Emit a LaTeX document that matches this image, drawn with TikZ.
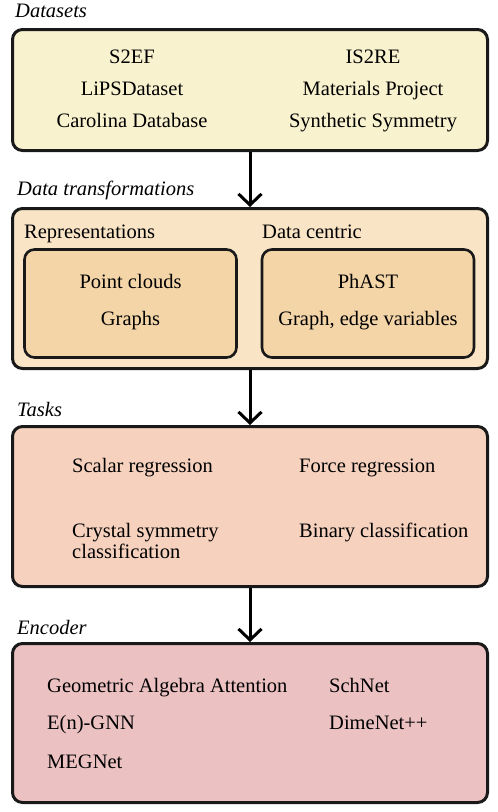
\documentclass[tikz,border=0pt]{standalone}
\usepackage{fontspec}
\setmainfont{Liberation Serif}
\usetikzlibrary{arrows.meta}
\definecolor{cDat}{HTML}{F8F2CF}
\definecolor{cTra}{HTML}{F9E4C6}
\definecolor{cIn}{HTML}{F3D5A8}
\definecolor{cTas}{HTML}{F5D1BE}
\definecolor{cEnc}{HTML}{ECC1C2}
\tikzset{
  bigbox/.style={draw=black!90, line width=3pt, rounded corners=10pt, inner sep=0pt, minimum width=475pt},
  innerbox/.style={draw=black!90, line width=2.6pt, rounded corners=10pt, inner sep=0pt, minimum width=212pt, minimum height=108pt, fill=cIn},
  txt/.style={inner sep=0pt, font=\fontsize{20.5}{21}\selectfont},
  lbl/.style={inner sep=0pt, anchor=base west, font=\fontsize{20.5}{21}\selectfont\itshape},
  flow/.style={line width=3pt, -{Straight Barb[length=11pt,width=23pt,line join=miter]}},
}
\begin{document}
\begin{tikzpicture}[x=1pt,y=-1pt]
\useasboundingbox (0,0) rectangle (498,812);
% boxes
\node[bigbox, fill=cDat, minimum height=121pt] (b1) at (250,90) {};
\node[bigbox, fill=cTra, minimum height=160pt] (b2) at (250,288.5) {};
\node[innerbox] (i1) at (130.5,303.5) {};
\node[innerbox] (i2) at (368,303.5) {};
\node[bigbox, fill=cTas, minimum height=160pt] (b3) at (250,506.5) {};
\node[bigbox, fill=cEnc, minimum height=159pt] (b4) at (250,723) {};
% labels
\node[lbl] (l1) at (15,17) {Datasets};
\node[lbl] (l2) at (17,195) {Data transformations};
\node[lbl] (l3) at (17,416) {Tasks};
\node[lbl] (l4) at (17,634) {Encoder};
% datasets
\node[txt, anchor=base] (d1) at (132,63) {S2EF};
\node[txt, anchor=base] (d2) at (132,95) {LiPSDataset};
\node[txt, anchor=base] (d3) at (132,127) {Carolina Database};
\node[txt, anchor=base] (d4) at (373,63) {IS2RE};
\node[txt, anchor=base] (d5) at (373,95) {Materials Project};
\node[txt, anchor=base] (d6) at (373,127) {Synthetic Symmetry};
% transformations
\node[txt, anchor=base west] (t1) at (24,238) {Representations};
\node[txt, anchor=base west] (t2) at (262,238) {Data centric};
\node[txt, anchor=base] (t3) at (130.5,288) {Point clouds};
\node[txt, anchor=base] (t4) at (130.5,325) {Graphs};
\node[txt, anchor=base] (t5) at (368,288) {PhAST};
\node[txt, anchor=base] (t6) at (368,325) {Graph, edge variables};
% tasks
\node[txt, anchor=base west] (k1) at (72,472) {Scalar regression};
\node[txt, anchor=base west] (k2) at (299,472) {Force regression};
\node[txt, anchor=base west, align=left] (k3) at (72,558) {Crystal symmetry\\classification};
\node[txt, anchor=base west] (k4) at (299,537) {Binary classification};
% encoders
\node[txt, anchor=base west] (e1) at (47,692) {Geometric Algebra Attention};
\node[txt, anchor=base west] (e2) at (329,692) {SchNet};
\node[txt, anchor=base west] (e3) at (47,729) {E(n)-GNN};
\node[txt, anchor=base west] (e4) at (329,729) {DimeNet++};
\node[txt, anchor=base west] (e5) at (47,768) {MEGNet};
% arrows
\draw[flow] (b1.south) -- (b2.north);
\draw[flow] (b2.south) -- (b3.north);
\draw[flow] (b3.south) -- (b4.north);
\end{tikzpicture}
\end{document}
